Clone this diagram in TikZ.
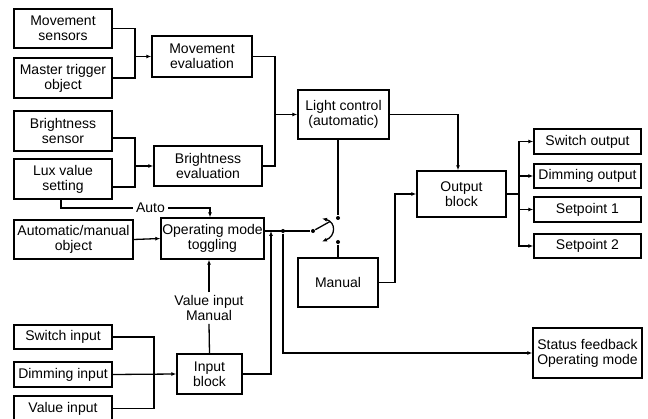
\documentclass[tikz,border=0pt]{standalone}
\usepackage{fontspec}
\setmainfont{Liberation Sans}
\usetikzlibrary{arrows.meta}
\tikzset{
  blk/.style 2 args={draw,line width=1.4pt,inner sep=0pt,align=center,
    minimum width=#1pt,minimum height=#2pt,font=\fontsize{14}{15}\selectfont},
  lbl/.style={inner sep=2.5pt,align=center,font=\fontsize{14}{15}\selectfont},
  dot/.style={circle,fill,inner sep=0pt,minimum size=4pt}
}
\begin{document}
\begin{tikzpicture}[x=1pt,y=-1pt,line width=1.3pt,>={Latex[length=5pt,width=4pt]}]
\useasboundingbox (0,0) rectangle (648,419);

\node[blk={98}{39}] (movs) at (63,28.5) {Movement\\sensors};
\node[blk={98}{40}] (mast) at (63,78) {Master trigger\\object};
\node[blk={100}{41}] (moveval) at (202,56.5) {Movement\\evaluation};
\node[blk={98}{40}] (brsen) at (63,131) {Brightness\\sensor};
\node[blk={98}{40}] (lux) at (63,179) {Lux value\\setting};
\node[blk={108}{40}] (breval) at (208,166) {Brightness\\evaluation};
\node[blk={91}{49}] (light) at (343.5,114.5) {Light control\\(automatic)};

\node[blk={119}{39}] (automan) at (73.5,239.5) {Automatic/manual\\object};
\node[blk={103}{41}] (opmode) at (212.5,238.5) {Operating mode\\toggling};
\node[blk={98}{24}] (swin) at (63,337) {Switch input};
\node[blk={98}{25}] (dimin) at (63,374.5) {Dimming input};
\node[blk={98}{25}] (valin) at (63,408.5) {Value input};
\node[blk={65}{40}] (inblk) at (209.5,374) {Input\\block};
\node[blk={80}{49}] (manual) at (338,282.5) {Manual};

\node[blk={89}{46}] (outblk) at (461.5,194) {Output\\block};
\node[blk={107}{25}] (swout) at (587.5,141.5) {Switch output};
\node[blk={107}{24}] (dimout) at (587.5,176) {Dimming output};
\node[blk={107}{25}] (sp1) at (587.5,209.5) {Setpoint 1};
\node[blk={107}{24}] (sp2) at (587.5,246) {Setpoint 2};
\node[blk={109}{50}] (status) at (587.5,353) {Status feedback\\Operating mode};

\node[lbl] (auto) at (150.5,208) {Auto};
\node[lbl] (vlab) at (209,308) {Value input\\Manual};

\coordinate (j1) at (135,56.5);
\coordinate (j2) at (135,166);
\coordinate (j3) at (275,114.5);
\coordinate (j4) at (154,374.5);
\coordinate (j5) at (271,231);
\coordinate (j6) at (395,194);
\coordinate (j7) at (519,194);

\draw (movs.east) -| (j1) |- (mast.east);
\draw[->] (j1) -- (moveval.west);
\draw ([yshift=-7pt]brsen.east) -| (j2) |- ([yshift=-8pt]lux.east);
\draw[->] (j2) -- (breval.west);
\draw (moveval.east) -| (j3) |- (breval.east);
\draw[->] (j3) -- (light.west);

\draw ([xshift=-2pt]lux.south) |- (auto.west);
\draw[->] (auto.east) -| ([xshift=-2.5pt]opmode.north);
\draw[->] (automan.east) -- (opmode.west);
\draw (inblk.north) -- (vlab.south);
\draw[->] (vlab.north) -- (vlab.north |- opmode.south);

\draw (swin.east) -| (j4) |- (valin.east);
\draw[->] (dimin.east) -- (inblk.west);
\draw[->] (inblk.east) -| (j5);

\node[dot] (piv) at (313,231) {};
\node[dot] (ca) at (338,218) {};
\node[dot] (cb) at (338,242) {};
\node[dot] (jst) at (283,231) {};
\draw ([yshift=7.5pt]opmode.east) -- (piv);
\draw (piv) -- (330,221.5);
\draw[<->] (322,218.5) .. controls (336,222) and (336,236) .. (322,241.5);
\draw ([xshift=-5.5pt]light.south) -- (ca);
\draw (cb) -- (manual.north);
\draw[->] (jst) |- (status.west);

\draw[->] (manual.east) -| (j6) -- (outblk.west);
\draw[->] (light.east) -| ([xshift=-3.5pt]outblk.north);
\draw (outblk.east) -- (j7);
\foreach \b in {swout,dimout,sp1,sp2}
  \draw[->] (j7) |- (\b.west);
\end{tikzpicture}
\end{document}
